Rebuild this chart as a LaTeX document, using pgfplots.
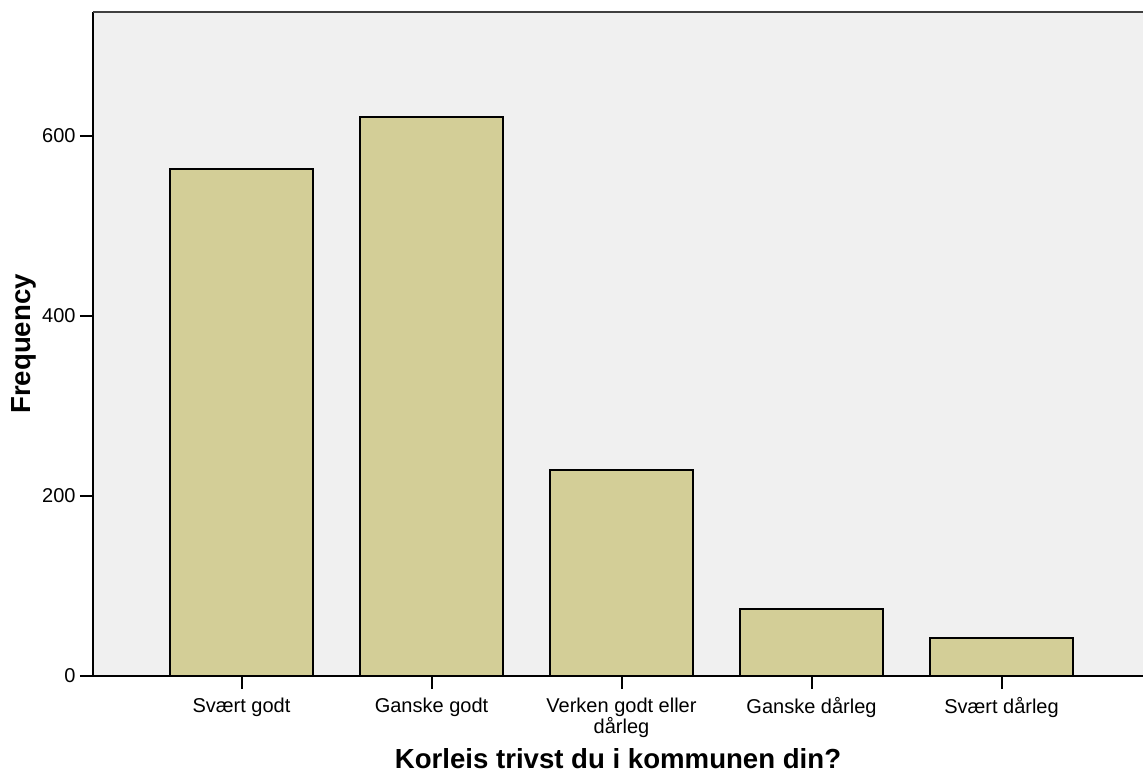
\documentclass[border=0pt]{standalone}
\usepackage{fontspec}
\setmainfont{Liberation Sans}
\usepackage{pgfplots}
\pgfplotsset{compat=1.18}
\definecolor{barfill}{RGB}{211,206,151}
\definecolor{bgfill}{RGB}{240,240,240}
\begin{document}
\begin{tikzpicture}
\begin{axis}[
  at={(0,0)}, anchor=south west,
  scale only axis, width=525pt, height=332pt,
  xmin=-0.7816, xmax=4.7447, ymin=0, ymax=737.8,
  axis lines*=left,
  axis line style={line width=1pt, black},
  axis background/.style={fill=bgfill},
  ybar, bar width=0.7526,
  xtick={0,1,2,3,4},
  xticklabels={Svært godt, Ganske godt, {Verken godt eller\\dårleg}, Ganske dårleg, Svært dårleg},
  ytick={0,200,400,600},
  tick align=outside, major tick length=6.5pt,
  every tick/.style={black, line width=1pt},
  tick label style={font=\fontsize{10}{10.5}\selectfont, inner sep=2pt},
  x tick label style={align=center, yshift=-2.2pt},
  /pgf/number format/assume math mode=true,
  xlabel={Korleis trivst du i kommunen din?},
  ylabel={Frequency},
  label style={font=\fontsize{13.8}{15}\selectfont\bfseries},
  xlabel style={at={(axis description cs:0.5,-0.140)}, anchor=base},
  ylabel style={at={(axis description cs:-0.06,0.5)}, anchor=base},
  clip=false,
]
\addplot[fill=barfill, draw=black, line width=1pt] coordinates {(0,563) (1,621) (2,229) (3,75) (4,42)};
\draw[line width=1pt, black!75] (rel axis cs:0,1) -- (rel axis cs:1,1);
\end{axis}
\pgfresetboundingbox
\path (-46.5pt,-50pt) rectangle (525pt,338pt);
\end{tikzpicture}
\end{document}
